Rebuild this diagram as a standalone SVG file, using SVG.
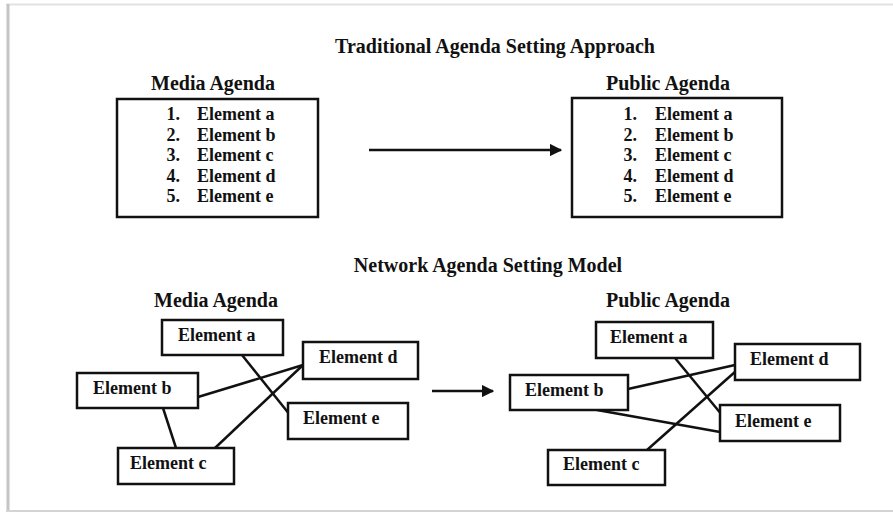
<svg xmlns="http://www.w3.org/2000/svg" width="893" height="515" viewBox="0 0 893 515">
<defs>
<style>
text{font-family:"Liberation Serif","Times New Roman",serif;font-weight:bold;fill:#111;}
.h{font-size:20px;text-anchor:middle;}
.e{font-size:18px;}
.n{font-size:18px;text-anchor:end;}
.box{fill:#fff;stroke:#111;stroke-width:2.5;}
.ln{stroke:#111;stroke-width:2.5;fill:none;}
</style>
<marker id="ah" viewBox="0 0 10 10" refX="9" refY="5" markerWidth="5" markerHeight="5" orient="auto" markerUnits="strokeWidth">
<path d="M0,0 L10,5 L0,10 z" fill="#111"/>
</marker>
</defs>
<rect x="0" y="0" width="893" height="515" fill="#fff"/>
<g id="frame">
<line x1="6" y1="4.5" x2="893" y2="4.5" stroke="#e2e2e2" stroke-width="2"/>
<line x1="8" y1="4" x2="8" y2="511" stroke="#c4c4c4" stroke-width="3"/>
<line x1="6" y1="511" x2="893" y2="511" stroke="#d4d4d4" stroke-width="2"/>
</g>
<g id="headings">
<text class="h" x="495" y="53">Traditional Agenda Setting Approach</text>
<text class="h" x="213" y="90">Media Agenda</text>
<text class="h" x="668" y="90">Public Agenda</text>
<text class="h" x="488" y="272">Network Agenda Setting Model</text>
<text class="h" x="216" y="307">Media Agenda</text>
<text class="h" x="668" y="307">Public Agenda</text>
</g>
<g id="media-list">
<rect class="box" x="117" y="99" width="201" height="118"/>
<text class="n" x="180" y="120">1.</text><text class="e" x="197" y="120">Element a</text>
<text class="n" x="180" y="141">2.</text><text class="e" x="197" y="141">Element b</text>
<text class="n" x="180" y="161">3.</text><text class="e" x="197" y="161">Element c</text>
<text class="n" x="180" y="182">4.</text><text class="e" x="197" y="182">Element d</text>
<text class="n" x="180" y="202">5.</text><text class="e" x="197" y="202">Element e</text>
</g>
<g id="public-list">
<rect class="box" x="572" y="98" width="210" height="119"/>
<text class="n" x="637" y="120">1.</text><text class="e" x="655" y="120">Element a</text>
<text class="n" x="637" y="141">2.</text><text class="e" x="655" y="141">Element b</text>
<text class="n" x="637" y="161">3.</text><text class="e" x="655" y="161">Element c</text>
<text class="n" x="637" y="182">4.</text><text class="e" x="655" y="182">Element d</text>
<text class="n" x="637" y="202">5.</text><text class="e" x="655" y="202">Element e</text>
</g>
<g id="connectors">
<line class="ln" x1="369" y1="150" x2="561" y2="150" marker-end="url(#ah)"/>
<line class="ln" x1="432" y1="391" x2="493" y2="391" marker-end="url(#ah)"/>
<line class="ln" x1="242" y1="355" x2="290" y2="415"/>
<line class="ln" x1="198" y1="397" x2="303" y2="365"/>
<line class="ln" x1="215" y1="448" x2="303" y2="365"/>
<line class="ln" x1="163" y1="408" x2="176" y2="448"/>
<line class="ln" x1="675" y1="358" x2="722" y2="415"/>
<line class="ln" x1="628" y1="389" x2="735" y2="365"/>
<line class="ln" x1="647" y1="450" x2="736" y2="371"/>
<line class="ln" x1="597" y1="410" x2="720" y2="432"/>
</g>
<g id="m-a"><rect class="box" x="162" y="320" width="121" height="35"/><text class="e" x="178" y="341">Element a</text></g>
<g id="m-d"><rect class="box" x="303" y="342" width="115" height="37"/><text class="e" x="319" y="363">Element d</text></g>
<g id="m-b"><rect class="box" x="77" y="373" width="121" height="35"/><text class="e" x="93" y="394">Element b</text></g>
<g id="m-e"><rect class="box" x="288" y="403" width="120" height="36"/><text class="e" x="303" y="424">Element e</text></g>
<g id="m-c"><rect class="box" x="118" y="448" width="116" height="36"/><text class="e" x="130" y="469">Element c</text></g>
<g id="p-a"><rect class="box" x="596" y="322" width="117" height="36"/><text class="e" x="610" y="343">Element a</text></g>
<g id="p-d"><rect class="box" x="735" y="344" width="125" height="36"/><text class="e" x="750" y="365">Element d</text></g>
<g id="p-b"><rect class="box" x="510" y="375" width="118" height="35"/><text class="e" x="525" y="396">Element b</text></g>
<g id="p-e"><rect class="box" x="720" y="405" width="120" height="36"/><text class="e" x="735" y="427">Element e</text></g>
<g id="p-c"><rect class="box" x="548" y="450" width="117" height="35"/><text class="e" x="563" y="470">Element c</text></g>
</svg>
